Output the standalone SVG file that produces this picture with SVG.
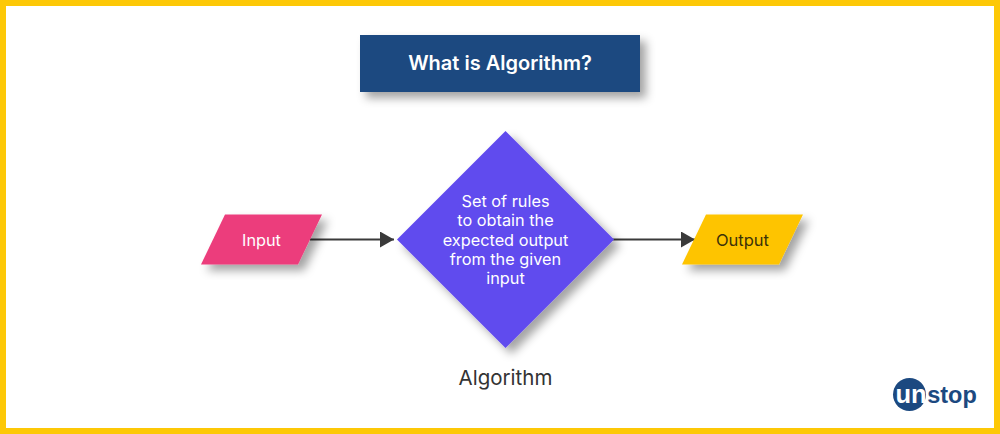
<svg xmlns="http://www.w3.org/2000/svg" width="1000" height="434" viewBox="0 0 1000 434">
<style>
text{font-family:Inter,"Liberation Sans",sans-serif;text-anchor:middle}
.s{filter:url(#sh)}
.d{font-size:16.300px;fill:#fff}
.l{font-family:"Liberation Sans",sans-serif;font-weight:700}
.c{stroke:#3a3a3a;stroke-width:2;fill:none;marker-end:url(#a)}
</style>
<defs>
<filter id="sh" x="-20%" y="-20%" width="150%" height="150%"><feDropShadow dx="6" dy="6" stdDeviation="5" flood-color="#000" flood-opacity="0.36"/></filter>
<marker id="a" markerUnits="userSpaceOnUse" markerWidth="15" markerHeight="16" refX="14" refY="8" orient="auto"><path d="M0 0L14 8L0 16Z" fill="#3a3a3a"/></marker>
</defs>
<rect x="3" y="3" width="994" height="428" fill="#fff" stroke="#fdc806" stroke-width="6"/>
<g id="title"><rect class="s" x="360" y="35" width="280" height="57" fill="#1c4980"/><text x="500" y="70" font-size="20" font-weight="600" fill="#fff">What is Algorithm?</text></g>
<g id="connectors"><path class="c" d="M310 239.500H394"/><path class="c" d="M612 239.500H695"/></g>
<g id="input"><polygon class="s" points="225,214.500 322,214.500 298,264.500 201,264.500" fill="#ec3d7c"/><text x="261.500" y="246" font-size="16.300" fill="#fff">Input</text></g>
<g id="algorithm"><polygon class="s" points="505.500,131 614,239.500 505.500,348 397,239.500" fill="#604bee"/>
<text class="d" x="505.500" y="207">Set of rules</text><text class="d" x="505.500" y="226">to obtain the</text><text class="d" x="505.500" y="246">expected output</text><text class="d" x="505.500" y="265">from the given</text><text class="d" x="505.500" y="284">input</text></g>
<g id="output"><polygon class="s" points="706,214.500 803,214.500 779,264.500 682,264.500" fill="#fec400"/><text x="742.500" y="246" font-size="16.500" fill="#3c3209">Output</text></g>
<text x="505.500" y="385" font-size="20.500" fill="#333">Algorithm</text>
<g id="logo"><circle cx="909.500" cy="394.500" r="16.500" fill="#1c4980"/><text class="l" x="911" y="402.500" font-size="25.500" fill="#fff">un</text><text class="l" x="952" y="402.500" font-size="23.500" fill="#1c4980">stop</text></g>
</svg>
